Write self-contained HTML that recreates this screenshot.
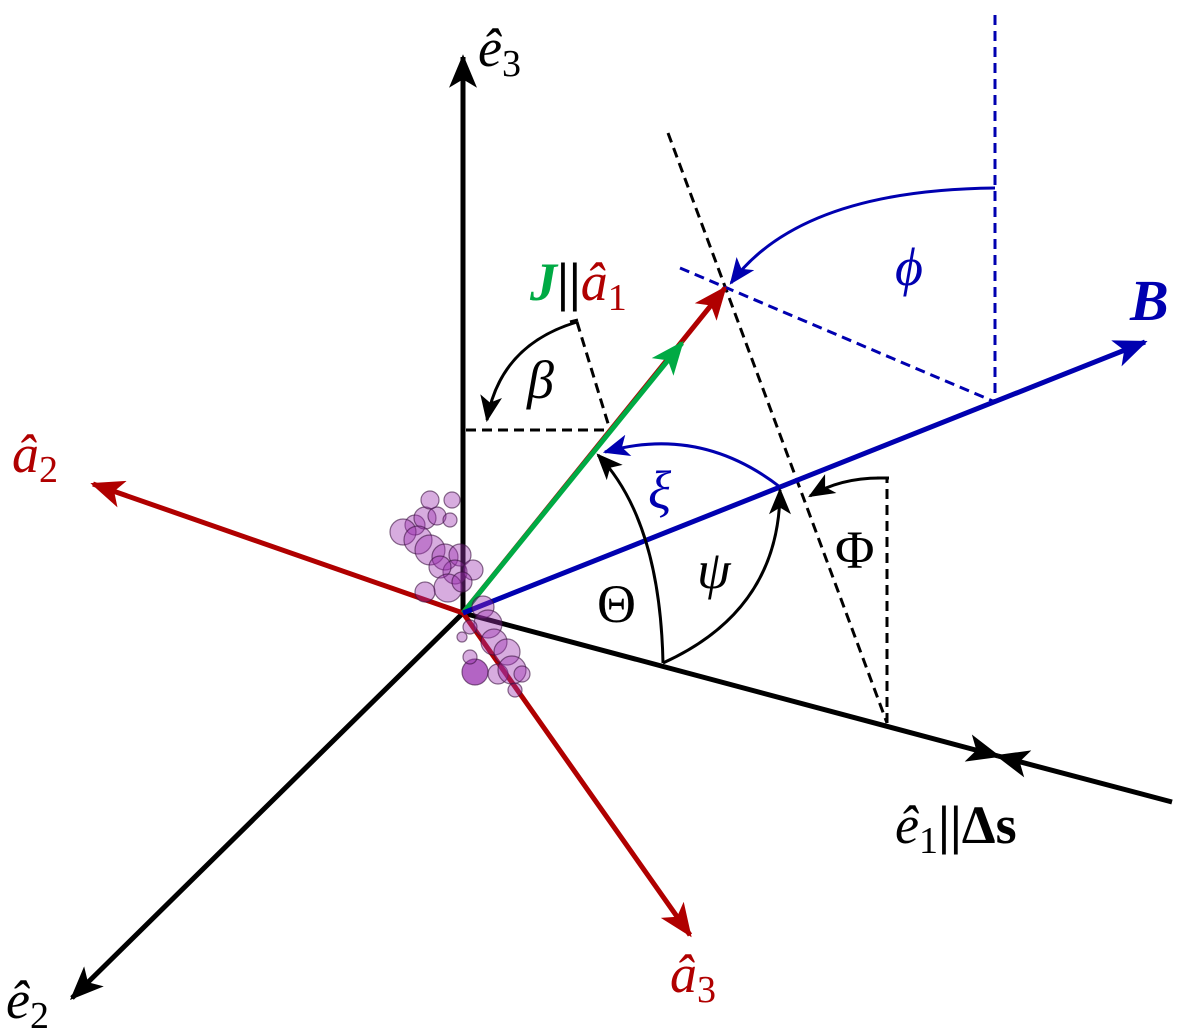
<!DOCTYPE html>
<html><head><style>body{margin:0;background:#fff}svg{display:block}
text{font-family:"Liberation Serif",serif}
.i{font-style:italic}.n{font-style:normal}</style></head><body>
<svg width="1200" height="1032" viewBox="0 0 1200 1032" xmlns="http://www.w3.org/2000/svg">
<defs>
<marker id="K" viewBox="0 0 12 10" refX="11" refY="5" markerWidth="36" markerHeight="28" markerUnits="userSpaceOnUse" orient="auto"><path d="M0,0 L12,5 L0,10 L3,5z" fill="#000"/></marker>
<marker id="R" viewBox="0 0 12 10" refX="11" refY="5" markerWidth="36" markerHeight="28" markerUnits="userSpaceOnUse" orient="auto"><path d="M0,0 L12,5 L0,10 L3,5z" fill="#b00000"/></marker>
<marker id="G" viewBox="0 0 12 10" refX="11" refY="5" markerWidth="36" markerHeight="28" markerUnits="userSpaceOnUse" orient="auto"><path d="M0,0 L12,5 L0,10 L3,5z" fill="#00aa44"/></marker>
<marker id="B" viewBox="0 0 12 10" refX="11" refY="5" markerWidth="36" markerHeight="28" markerUnits="userSpaceOnUse" orient="auto"><path d="M0,0 L12,5 L0,10 L3,5z" fill="#0000b0"/></marker>
<marker id="b" viewBox="0 0 12 10" refX="11" refY="5" markerWidth="28" markerHeight="22" markerUnits="userSpaceOnUse" orient="auto"><path d="M0,0 L12,5 L0,10 L3,5z" fill="#0000b0"/></marker>
<marker id="kk" viewBox="0 0 12 10" refX="11" refY="5" markerWidth="28" markerHeight="22" markerUnits="userSpaceOnUse" orient="auto"><path d="M0,0 L12,5 L0,10 L3,5z" fill="#000"/></marker>
</defs>
<g stroke="#000" stroke-width="3" stroke-dasharray="10,6" fill="none">
<line x1="668" y1="133" x2="887" y2="723"/>
<line x1="887" y1="723" x2="887" y2="478"/>
<line x1="577" y1="322" x2="610" y2="430"/>
<line x1="466" y1="430" x2="608" y2="430"/>
</g>
<line x1="877" y1="478" x2="889" y2="478" stroke="#000" stroke-width="3"/>
<line x1="570" y1="322" x2="578" y2="320" stroke="#000" stroke-width="3"/>
<g stroke="#0000b0" stroke-width="3" stroke-dasharray="10,6" fill="none">
<line x1="995" y1="15" x2="995" y2="402"/>
<line x1="680" y1="268" x2="995" y2="402"/>
</g>
<g stroke-width="5" fill="none">
<line x1="463" y1="613" x2="463" y2="57" stroke="#000" marker-end="url(#K)"/>
<line x1="463" y1="613" x2="72" y2="998" stroke="#000" marker-end="url(#K)"/>
<line x1="463" y1="613" x2="998" y2="756" stroke="#000" marker-end="url(#K)"/>
<line x1="1172" y1="802" x2="998" y2="756" stroke="#000" marker-end="url(#K)"/>
<line x1="463" y1="613" x2="93" y2="484" stroke="#b00000" marker-end="url(#R)"/>
<line x1="463" y1="613" x2="690" y2="935" stroke="#b00000" marker-end="url(#R)"/>
<line x1="463" y1="613" x2="725" y2="288" stroke="#b00000" marker-end="url(#R)"/>
<line x1="463" y1="613" x2="682" y2="343" stroke="#00aa44" marker-end="url(#G)"/>
<line x1="463" y1="613" x2="1145" y2="342" stroke="#0000b0" marker-end="url(#B)"/>
</g>
<g fill="#9a30b0" fill-opacity="0.4" stroke="#3a1040" stroke-opacity="0.6" stroke-width="1.2">
<circle cx="415" cy="525" r="10"/><circle cx="425" cy="518" r="11"/><circle cx="437" cy="516" r="9"/><circle cx="450" cy="520" r="7"/>
<circle cx="403" cy="532" r="13"/><circle cx="418" cy="540" r="14"/><circle cx="430" cy="550" r="15"/>
<circle cx="445" cy="557" r="13"/><circle cx="460" cy="555" r="11"/><circle cx="455" cy="572" r="12"/>
<circle cx="440" cy="567" r="11"/><circle cx="473" cy="570" r="10"/><circle cx="448" cy="588" r="14"/>
<circle cx="425" cy="592" r="10"/><circle cx="462" cy="582" r="10"/><circle cx="483" cy="607" r="11"/>
<circle cx="488" cy="624" r="14"/><circle cx="470" cy="627" r="7"/><circle cx="462" cy="637" r="5"/>
<circle cx="494" cy="642" r="13"/><circle cx="507" cy="652" r="13"/><circle cx="475" cy="672" r="13" fill-opacity="0.75"/>
<circle cx="498" cy="674" r="10"/><circle cx="512" cy="670" r="14"/><circle cx="522" cy="674" r="8"/>
<circle cx="515" cy="690" r="7"/><circle cx="470" cy="657" r="7"/><circle cx="430" cy="500" r="9"/><circle cx="452" cy="500" r="8"/>
</g>
<g fill="none" stroke-width="3">
<path d="M995,188 Q800,190 731,283" stroke="#0000b0" marker-end="url(#b)"/>
<path d="M780,487 Q700,425 605,452" stroke="#0000b0" marker-end="url(#b)"/>
<path d="M577,322 Q500,345 487,420" stroke="#000" marker-end="url(#kk)"/>
<path d="M663,663 Q660,520 598,455" stroke="#000" marker-end="url(#kk)"/>
<path d="M663,663 Q780,610 780,490" stroke="#000" marker-end="url(#kk)"/>
<path d="M880,478 Q840,478 810,496" stroke="#000" marker-end="url(#kk)"/>
</g>
<g font-size="54">
<text x="478" y="66" class="i">ê<tspan font-size="38" dy="10" class="n">3</tspan></text>
<text x="6" y="1018" class="i">ê<tspan font-size="38" dy="10" class="n">2</tspan></text>
<text x="895" y="843" class="i">ê<tspan font-size="38" dy="10" class="n">1</tspan><tspan dy="-10" class="n" font-weight="bold">||Δs</tspan></text>
<text x="12" y="472" fill="#b00000" class="i">â<tspan font-size="38" dy="10" class="n">2</tspan></text>
<text x="670" y="992" fill="#b00000" class="i">â<tspan font-size="38" dy="10" class="n">3</tspan></text>
<text x="530" y="300" fill="#00aa44" font-weight="bold" class="i">J<tspan fill="#000" class="n">||</tspan><tspan fill="#b00000" font-weight="normal">â</tspan><tspan fill="#b00000" font-size="38" dy="10" class="n" font-weight="normal">1</tspan></text>
<text x="1130" y="320" fill="#0000b0" font-weight="bold" font-size="58" class="i">B</text>
<text x="895" y="285" fill="#0000b0" class="i">ϕ</text>
<text x="527" y="398" class="i">β</text>
<text x="648" y="508" fill="#0000b0" class="i">ξ</text>
<text x="597" y="622" class="n">Θ</text>
<text x="697" y="588" class="i">ψ</text>
<text x="835" y="568" class="n">Φ</text>
</g>
</svg>
</body></html>
